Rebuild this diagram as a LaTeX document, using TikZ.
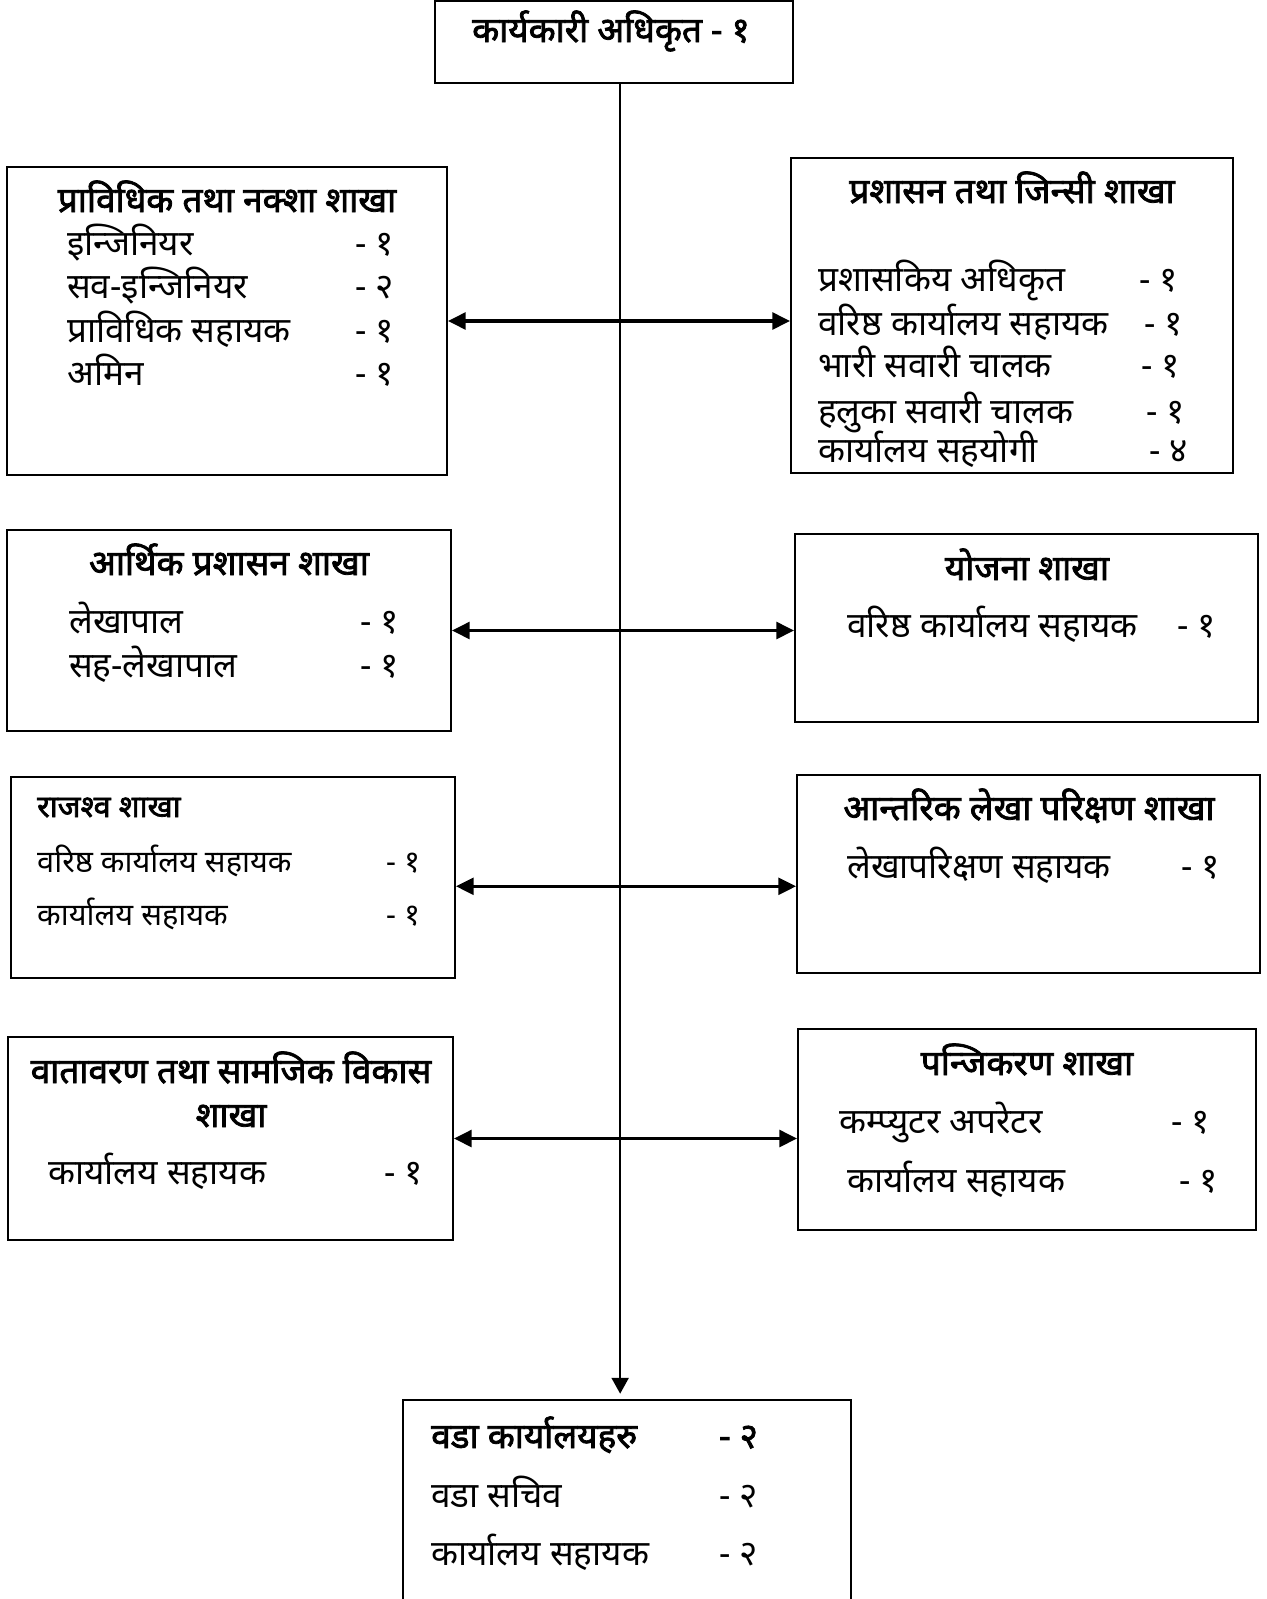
\documentclass[tikz,border=0pt]{standalone}
\usepackage{fontspec}
\newfontfamily\nep[Script=Devanagari, Language=Nepali]{Noto Sans}
\newfontfamily\nepb[Script=Devanagari, Language=Nepali, FakeBold=2.2]{Noto Sans}
\usetikzlibrary{arrows.meta,fit}

\tikzset{
  box/.style={draw, line width=1.1pt, inner sep=0pt},
  head/.style={anchor=base, font=\nepb\fontsize{20}{24}\selectfont},
  post/.style={anchor=base west},
  small/.style={font=\nep\fontsize{17.5}{21}\selectfont},
  link/.style={{Triangle[length=10pt,width=9.5pt]}-{Triangle[length=10pt,width=9.5pt]}, line width=1.8pt},
  spine/.style={-{Triangle[length=9pt,width=9.5pt]}, line width=1.5pt},
}

\begin{document}
\begin{tikzpicture}[x=0.02cm, y=-0.02cm, font=\nep\fontsize{20}{24}\selectfont]
  \useasboundingbox (0,0) rectangle (1267,1599);

  % chief
  \node[box, fit={(435,1) (793,83)}] (chief) {};
  \node[head] (chief-title) at (611,42) {कार्यकारी अधिकृत - १};

  % left column
  \node[box, fit={(7,167) (447,475)}] (tech) {};
  \node[head] (tech-title) at (227,212) {प्राविधिक तथा नक्शा शाखा};
  \foreach \y/\post/\num in {255/इन्जिनियर/१, 298/सव-इन्जिनियर/२, 342/प्राविधिक सहायक/१, 385/अमिन/१} {
    \node[post] (tech-\y) at (61,\y) {\post};
    \node[post] (tech-n\y) at (349,\y) {- \num};
  }

  \node[box, fit={(7,530) (451,731)}] (fin) {};
  \node[head] (fin-title) at (229,575) {आर्थिक प्रशासन शाखा};
  \foreach \y/\post in {633/लेखापाल, 677/सह-लेखापाल} {
    \node[post] (fin-\y) at (63,\y) {\post};
    \node[post] (fin-n\y) at (354,\y) {- १};
  }

  \node[box, fit={(11,777) (455,978)}] (rev) {};
  \node[head, anchor=base west, font=\nepb\fontsize{17.5}{21}\selectfont] (rev-title) at (31,817) {राजश्व शाखा};
  \foreach \y/\post in {872/वरिष्ठ कार्यालय सहायक, 925/कार्यालय सहायक} {
    \node[post, small] (rev-\y) at (31,\y) {\post};
    \node[post, small] (rev-n\y) at (380,\y) {- १};
  }

  \node[box, fit={(8,1037) (453,1240)}] (env) {};
  \node[head] (env-title) at (231,1083) {वातावरण तथा सामजिक विकास};
  \node[head] (env-title2) at (231,1127) {शाखा};
  \node[post] (env-1184) at (42,1184) {कार्यालय सहायक};
  \node[post] (env-n1184) at (378,1184) {- १};

  % right column
  \node[box, fit={(791,158) (1233,473)}] (admin) {};
  \node[head] (admin-title) at (1012,203) {प्रशासन तथा जिन्सी शाखा};
  \foreach \y/\post/\x/\num in {291/प्रशासकिय अधिकृत/1133/१, 335/वरिष्ठ कार्यालय सहायक/1138/१, 377/भारी सवारी चालक/1135/१, 423/हलुका सवारी चालक/1140/१, 462/कार्यालय सहयोगी/1143/४} {
    \node[post] (admin-\y) at (812,\y) {\post};
    \node[post] (admin-n\y) at (\x,\y) {- \num};
  }

  \node[box, fit={(795,534) (1258,722)}] (plan) {};
  \node[head] (plan-title) at (1027,580) {योजना शाखा};
  \node[post] (plan-637) at (841,637) {वरिष्ठ कार्यालय सहायक};
  \node[post] (plan-n637) at (1171,637) {- १};

  \node[box, fit={(797,775) (1260,973)}] (audit) {};
  \node[head] (audit-title) at (1029,820) {आन्तरिक लेखा परिक्षण शाखा};
  \node[post] (audit-878) at (841,878) {लेखापरिक्षण सहायक};
  \node[post] (audit-n878) at (1175,878) {- १};

  \node[box, fit={(798,1029) (1256,1230)}] (reg) {};
  \node[head] (reg-title) at (1027,1075) {पन्जिकरण शाखा};
  \foreach \y/\post/\x/\d in {1133/कम्प्युटर अपरेटर/833/1165, 1192/कार्यालय सहायक/841/1173} {
    \node[post] (reg-\y) at (\x,\y) {\post};
    \node[post] (reg-n\y) at (\d,\y) {- १};
  }

  % wards
  \node[box, fit={(403,1400) (851,1660)}] (ward) {};
  \node[head, anchor=base west] (ward-title) at (425,1448) {वडा कार्यालयहरु};
  \node[head, anchor=base west] (ward-ntitle) at (713,1448) {- २};
  \foreach \y/\post in {1507/वडा सचिव, 1565/कार्यालय सहायक} {
    \node[post] (ward-\y) at (425,\y) {\post};
    \node[post] (ward-n\y) at (713,\y) {- २};
  }

  % links
  \coordinate (spine-top) at ([xshift=3.5pt]chief.south);
  \coordinate (rev-link) at ([yshift=-5pt]rev.east);
  \draw[spine, shorten >=3pt] (spine-top) -- (spine-top |- ward.north);
  \draw[link] (tech.east) -- (admin.west |- tech.east);
  \draw[link] (fin.east) -- (plan.west |- fin.east);
  \draw[link] (rev-link) -- (audit.west |- rev-link);
  \draw[link] (env.east) -- (reg.west |- env.east);
\end{tikzpicture}
\end{document}
